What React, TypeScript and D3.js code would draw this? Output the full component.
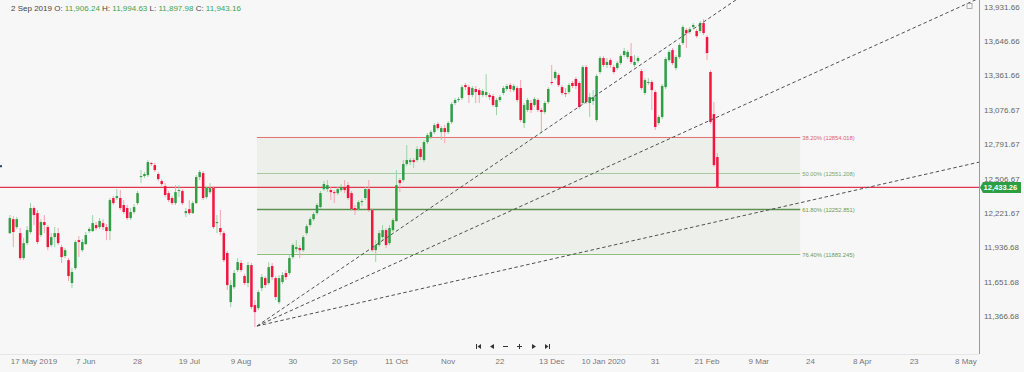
import React, { useEffect, useRef } from 'react';
import * as d3 from 'd3';

// trading-day index of the first candle (0 = 17 May 2019)
const firstIndex = -7;

const opens = [
  12054, 12170, 12104, 12054, 11847, 11971, 12063,
  12262, 12220, 12038, 12146, 12104, 11955, 12021, 12054, 11938, 11864,
  11830, 11640, 11764, 11996, 11913, 11963, 12071, 12071, 12121, 12104,
  12137, 12104, 12071, 12345, 12345, 12345, 12287, 12262, 12179, 12229,
  12303, 12519, 12527, 12535, 12635, 12618, 12544, 12486, 12444, 12386,
  12345, 12303, 12403, 12403, 12220, 12253, 12220, 12303, 12519, 12552,
  12353, 12394, 12428, 12137, 12096, 12054, 11889, 11482, 11606, 11748,
  11806, 11698, 11640, 11789, 11457, 11432, 11598, 11681, 11640, 11781,
  11681, 11482, 11648, 11723, 11723, 11855, 11922, 11930, 11913, 12054,
  12121, 12170, 12220, 12270, 12419, 12419, 12411, 12394, 12386, 12411,
  12436, 12452, 12386, 12262, 12253, 12311, 12345, 12419, 12245, 11913,
  11955, 12021, 12079, 11971, 12079, 12154, 12494, 12494, 12627, 12643,
  12660, 12660, 12751, 12660, 12809, 12851, 12892, 12959, 12892, 12925,
  12892, 12975, 13133, 13158, 13174, 13282, 13265, 13199, 13249, 13240,
  13199, 13199, 13199, 13191, 13100, 13158, 13216, 13249, 13282, 13240,
  13257, 13257, 12967, 13075, 13133, 13116, 13158, 13075, 13058, 13141,
  13307, 13340, 13365, 13265, 13216, 13224, 13299, 13332, 13299, 13133,
  13431, 13133, 13149, 12992, 13390, 13506, 13448, 13489, 13431, 13423,
  13464, 13531, 13514, 13522, 13448, 13481, 13398, 13216, 13299, 13307,
  13224, 12967, 13017, 13265, 13489, 13572, 13423, 13514, 13630, 13738,
  13722, 13763, 13730, 13730, 13796, 13680, 13390, 13041, 12685,
];

const highs = [
  12204, 12195, 12187, 12096, 12013, 12112, 12303,
  12278, 12245, 12170, 12204, 12121, 12054, 12104, 12096, 11955, 11930,
  11847, 11764, 11996, 12029, 12005, 12063, 12104, 12204, 12146, 12179,
  12170, 12129, 12345, 12361, 12419, 12411, 12328, 12287, 12262, 12295,
  12403, 12577, 12560, 12660, 12643, 12635, 12560, 12502, 12469, 12403,
  12361, 12452, 12452, 12419, 12262, 12328, 12320, 12535, 12577, 12569,
  12444, 12469, 12444, 12204, 12245, 12071, 11905, 11665, 11748, 11847,
  11830, 11714, 11814, 11806, 11499, 11582, 11714, 11698, 11814, 11806,
  11698, 11706, 11731, 11748, 11872, 11971, 11996, 11955, 12038, 12129,
  12187, 12229, 12303, 12403, 12486, 12494, 12436, 12411, 12436, 12461,
  12494, 12477, 12403, 12287, 12328, 12336, 12436, 12494, 12262, 11996,
  12079, 12121, 12096, 12121, 12179, 12577, 12511, 12660, 12784, 12677,
  12677, 12776, 12768, 12826, 12884, 12909, 12967, 12975, 12942, 12950,
  12983, 13141, 13174, 13182, 13282, 13299, 13282, 13274, 13274, 13257,
  13249, 13373, 13216, 13207, 13174, 13199, 13274, 13290, 13299, 13290,
  13274, 13323, 13133, 13174, 13158, 13182, 13174, 13091, 13149, 13265,
  13448, 13406, 13381, 13282, 13257, 13299, 13315, 13348, 13315, 13448,
  13448, 13216, 13240, 13373, 13522, 13522, 13506, 13506, 13448, 13481,
  13539, 13589, 13572, 13630, 13531, 13522, 13415, 13340, 13340, 13323,
  13240, 13033, 13290, 13514, 13572, 13589, 13531, 13630, 13780, 13755,
  13763, 13796, 13746, 13813, 13829, 13697, 13406, 13141, 12718,
];

const lows = [
  12046, 11938, 12088, 11830, 11830, 11955, 12046,
  12121, 11963, 12021, 12054, 11913, 11938, 11938, 11955, 11806, 11847,
  11656, 11598, 11748, 11855, 11897, 11955, 12054, 12063, 12079, 12088,
  12079, 11996, 11996, 12287, 12328, 12245, 12212, 12162, 12162, 12212,
  12287, 12469, 12511, 12519, 12610, 12560, 12486, 12444, 12353, 12311,
  12287, 12287, 12353, 12287, 12187, 12204, 12212, 12295, 12494, 12328,
  12336, 12378, 12088, 12054, 12038, 11814, 11582, 11441, 11590, 11731,
  11731, 11623, 11606, 11424, 11275, 11416, 11573, 11598, 11623, 11665,
  11499, 11465, 11631, 11665, 11706, 11839, 11897, 11847, 11897, 12038,
  12104, 12154, 12204, 12253, 12403, 12394, 12328, 12303, 12370, 12394,
  12386, 12328, 12237, 12204, 12237, 12278, 12328, 12229, 11897, 11814,
  11938, 11996, 11930, 11955, 12063, 12146, 12394, 12477, 12610, 12618,
  12594, 12643, 12660, 12643, 12793, 12834, 12876, 12909, 12826, 12801,
  12876, 12959, 13116, 13141, 13158, 13240, 13133, 13182, 13133, 13133,
  13182, 13182, 13158, 13100, 13033, 13141, 13199, 13232, 13224, 13224,
  13141, 12975, 12925, 13058, 13050, 13100, 13058, 12884, 13041, 13124,
  13282, 13323, 13265, 13199, 13182, 13207, 13257, 13249, 13083, 13116,
  13124, 13017, 13116, 12975, 13373, 13431, 13423, 13423, 13373, 13406,
  13448, 13514, 13498, 13456, 13431, 13464, 13240, 13199, 13282, 13075,
  12909, 12950, 13000, 13249, 13473, 13448, 13406, 13498, 13614, 13589,
  13705, 13746, 13672, 13713, 13697, 13489, 12959, 12602, 12419,
];

const closes = [
  12179, 12063, 12170, 11847, 11971, 12079, 12262,
  12204, 11980, 12146, 12121, 11938, 12021, 12054, 11971, 11855, 11913,
  11698, 11731, 11980, 11980, 11980, 12038, 12088, 12137, 12096, 12154,
  12104, 12071, 12328, 12303, 12361, 12262, 12229, 12179, 12229, 12270,
  12386, 12527, 12544, 12643, 12627, 12577, 12502, 12461, 12370, 12328,
  12303, 12394, 12411, 12303, 12237, 12220, 12303, 12519, 12560, 12345,
  12428, 12428, 12104, 12146, 12063, 11830, 11623, 11623, 11723, 11814,
  11748, 11640, 11789, 11441, 11399, 11565, 11689, 11623, 11772, 11689,
  11524, 11681, 11706, 11689, 11847, 11955, 11938, 11913, 12021, 12112,
  12170, 12212, 12287, 12386, 12461, 12452, 12394, 12386, 12419, 12436,
  12411, 12345, 12253, 12245, 12311, 12320, 12419, 12245, 11913, 11955,
  12054, 12079, 11955, 12096, 12162, 12452, 12469, 12627, 12660, 12660,
  12643, 12751, 12685, 12809, 12867, 12892, 12950, 12925, 12925, 12892,
  12967, 13124, 13158, 13166, 13265, 13265, 13199, 13257, 13224, 13199,
  13232, 13224, 13182, 13116, 13158, 13182, 13257, 13274, 13249, 13274,
  13158, 12992, 13116, 13158, 13075, 13166, 13075, 13058, 13133, 13249,
  13299, 13390, 13282, 13216, 13207, 13282, 13274, 13274, 13100, 13431,
  13141, 13182, 13182, 13357, 13506, 13448, 13473, 13448, 13390, 13464,
  13522, 13564, 13556, 13473, 13473, 13506, 13257, 13323, 13307, 13240,
  12934, 13017, 13274, 13498, 13556, 13464, 13514, 13614, 13763, 13713,
  13746, 13780, 13688, 13796, 13713, 13547, 12975, 12618, 12433.26,
];

const xTickLabels = [
  '17 May 2019', '7 Jun', '28', '19 Jul', '9 Aug', '30', '20 Sep', '11 Oct', 'Nov', '22',
  '13 Dec', '10 Jan 2020', '31', '21 Feb', '9 Mar', '24', '8 Apr', '23', '8 May',
];
const xTickStep = 15;

const yTickValues = [11366.68, 11651.68, 11936.68, 12221.67, 12506.67, 12791.67, 13076.67, 13361.66, 13646.66, 13931.66];

const fibLevels = [
  { ratio: '38.20%', value: 12854.018 },
  { ratio: '50.00%', value: 12551.208 },
  { ratio: '61.80%', value: 12252.851 },
  { ratio: '76.40%', value: 11883.245 },
];
const fibStartIndex = 64.6;
const fibEndIndex = 222;

// speed resistance fan from the August low through the February high
const trendLow = { index: 64.6, value: 11283.5 };
const trendHigh = { index: 195, value: 13824.8 };
const fanRatios = [1, 2 / 3, 1 / 3];

const lastPrice = 12433.26;
const headerDate = '2 Sep 2019';
const headerValues = [
  ['O', '11,906.24'],
  ['H', '11,994.63'],
  ['L', '11,897.98'],
  ['C', '11,943.16'],
];

const UP = '#2f9e44';
const DOWN = '#f2163e';
const UP_WICK = '#9ad3a5';
const DOWN_WICK = '#f7a1b2';
const FONT = '"Liberation Sans", Arial, sans-serif';

export default function App() {
  const svgRef = useRef<SVGSVGElement>(null);

  useEffect(() => {
    if (!svgRef.current) return;
    document.body.style.margin = '0';

    const width = 1024;
    const height = 372;
    const plotRight = 979;
    const plotBottom = 354;

    const svg = d3.select(svgRef.current);
    svg.selectAll('*').remove();

    const x = d3.scaleLinear().domain([-9.85, 273.8]).range([0, plotRight]);
    const y = d3.scaleLinear()
      .domain([yTickValues[0], yTickValues[yTickValues.length - 1]])
      .range([316, 6.7]);

    svg.append('rect').attr('width', width).attr('height', height).attr('fill', '#f7f7f7');

    svg.append('defs').append('clipPath').attr('id', 'plot-clip')
      .append('rect').attr('width', plotRight).attr('height', plotBottom);

    const plot = svg.append('g').attr('clip-path', 'url(#plot-clip)');

    // fibonacci zone
    const fibTop = fibLevels[0].value;
    const fibBottom = fibLevels[fibLevels.length - 1].value;
    plot.append('rect')
      .attr('x', x(fibStartIndex))
      .attr('y', y(fibTop))
      .attr('width', x(fibEndIndex) - x(fibStartIndex))
      .attr('height', y(fibBottom) - y(fibTop))
      .attr('fill', '#edf0ea');

    const fibStyle = [
      { stroke: '#e57373', width: 1, text: '#e0606f' },
      { stroke: '#a9c9a0', width: 1, text: '#78a86c' },
      { stroke: '#5e8f52', width: 1.6, text: '#6a9a5e' },
      { stroke: '#8fbd80', width: 1, text: '#6a9a5e' },
    ];
    fibLevels.forEach((lv, i) => {
      const yy = Math.round(y(lv.value)) + 0.5;
      plot.append('line')
        .attr('x1', x(fibStartIndex)).attr('x2', x(fibEndIndex))
        .attr('y1', yy).attr('y2', yy)
        .attr('stroke', fibStyle[i].stroke)
        .attr('stroke-width', fibStyle[i].width);
      plot.append('text')
        .attr('x', x(fibEndIndex) + 2)
        .attr('y', yy + 2)
        .attr('font-family', FONT)
        .attr('font-size', 5.8)
        .attr('fill', fibStyle[i].text)
        .text(`${lv.ratio} (${lv.value.toFixed(3)})`);
    });

    // current price line
    const py = y(lastPrice);
    plot.append('line').attr('x1', 0).attr('x2', plotRight).attr('y1', py).attr('y2', py)
      .attr('stroke', '#e0354b').attr('stroke-width', 1.4);

    // candles
    const candles = opens.map((o, i) => ({
      i: firstIndex + i, o, h: highs[i], l: lows[i], c: closes[i],
    }));
    const bodyW = 2.5;
    const g = plot.append('g');
    g.selectAll('line.wick')
      .data(candles)
      .enter().append('line')
      .attr('class', 'wick')
      .attr('x1', d => x(d.i)).attr('x2', d => x(d.i))
      .attr('y1', d => y(d.h)).attr('y2', d => y(d.l))
      .attr('stroke', d => (d.c >= d.o ? UP_WICK : DOWN_WICK))
      .attr('stroke-width', 1);
    g.selectAll('rect.body')
      .data(candles)
      .enter().append('rect')
      .attr('class', 'body')
      .attr('x', d => x(d.i) - bodyW / 2)
      .attr('y', d => y(Math.max(d.o, d.c)))
      .attr('width', bodyW)
      .attr('height', d => Math.max(1, Math.abs(y(d.o) - y(d.c))))
      .attr('fill', d => (d.c >= d.o ? UP : DOWN));

    // fan lines
    const span = trendHigh.value - trendLow.value;
    const endIndex = x.domain()[1];
    fanRatios.forEach(r => {
      const slope = (r * span) / (trendHigh.index - trendLow.index);
      const endValue = trendLow.value + slope * (endIndex - trendLow.index);
      plot.append('line')
        .attr('x1', x(trendLow.index)).attr('y1', y(trendLow.value))
        .attr('x2', x(endIndex)).attr('y2', y(endValue))
        .attr('stroke', '#505050')
        .attr('stroke-width', 1)
        .attr('stroke-dasharray', '3.5,2.5');
    });

    // left edge marker
    svg.append('rect').attr('x', 0).attr('y', y(12617)).attr('width', 2).attr('height', 2).attr('fill', '#2b3f6b');

    // axes frame
    svg.append('line').attr('x1', plotRight + 0.5).attr('x2', plotRight + 0.5).attr('y1', 0).attr('y2', plotBottom)
      .attr('stroke', '#9a9a9a');
    svg.append('line').attr('x1', 0).attr('x2', plotRight).attr('y1', plotBottom + 0.5).attr('y2', plotBottom + 0.5)
      .attr('stroke', '#e6e6e6');

    // y axis labels
    svg.append('g').selectAll('text')
      .data(yTickValues)
      .enter().append('text')
      .attr('x', plotRight + 5)
      .attr('y', d => y(d) + 3)
      .attr('font-family', FONT)
      .attr('font-size', 8)
      .attr('fill', '#666')
      .text(d => d3.format(',.2f')(d));

    // last price tag
    const tagY = y(lastPrice);
    svg.append('path')
      .attr('d', `M${plotRight + 1},${tagY} L${plotRight + 4},${tagY - 5.5} L${width - 3},${tagY - 5.5} L${width - 3},${tagY + 5.5} L${plotRight + 4},${tagY + 5.5} Z`)
      .attr('fill', '#2e9e44');
    svg.append('text')
      .attr('x', plotRight + 4.5)
      .attr('y', tagY + 2.8)
      .attr('font-family', FONT)
      .attr('font-size', 7.6)
      .attr('font-weight', 'bold')
      .attr('fill', '#fff')
      .text(d3.format(',.2f')(lastPrice));

    // x axis labels
    svg.append('g').selectAll('text')
      .data(xTickLabels)
      .enter().append('text')
      .attr('x', (_, i) => x(i * xTickStep))
      .attr('y', 363.5)
      .attr('text-anchor', 'middle')
      .attr('font-family', FONT)
      .attr('font-size', 8)
      .attr('fill', '#777')
      .text(d => d);

    // header
    const header = svg.append('text')
      .attr('x', 11).attr('y', 10.5)
      .attr('font-family', FONT)
      .attr('font-size', 8)
      .attr('fill', '#444');
    header.append('tspan').text(`${headerDate} `);
    headerValues.forEach(([k, v]) => {
      header.append('tspan').attr('fill', '#444').text(`${k}: `);
      header.append('tspan').attr('fill', '#3fa34d').text(`${v} `);
    });

    // navigation controls
    const nav = svg.append('g').attr('fill', '#333').attr('stroke', '#333');
    const ny = 346.5;
    nav.append('rect').attr('x', 476).attr('y', ny - 2.5).attr('width', 1).attr('height', 5).attr('stroke', 'none');
    nav.append('path').attr('d', `M477.5,${ny} L481,${ny - 2.5} L481,${ny + 2.5} Z`).attr('stroke', 'none');
    nav.append('path').attr('d', `M490,${ny} L494,${ny - 2.5} L494,${ny + 2.5} Z`).attr('stroke', 'none');
    nav.append('line').attr('x1', 503).attr('x2', 508).attr('y1', ny).attr('y2', ny).attr('stroke-width', 1);
    nav.append('line').attr('x1', 517).attr('x2', 522).attr('y1', ny).attr('y2', ny).attr('stroke-width', 1);
    nav.append('line').attr('x1', 519.5).attr('x2', 519.5).attr('y1', ny - 2.5).attr('y2', ny + 2.5).attr('stroke-width', 1);
    nav.append('path').attr('d', `M532,${ny - 2.5} L536,${ny} L532,${ny + 2.5} Z`).attr('stroke', 'none');
    nav.append('path').attr('d', `M545,${ny - 2.5} L548.5,${ny} L545,${ny + 2.5} Z`).attr('stroke', 'none');
    nav.append('rect').attr('x', 549).attr('y', ny - 2.5).attr('width', 1).attr('height', 5).attr('stroke', 'none');

    // corner icon
    svg.append('rect').attr('x', 967).attr('y', 3.5).attr('width', 5).attr('height', 5)
      .attr('fill', 'none').attr('stroke', '#999').attr('stroke-width', 0.8);
  }, []);

  return (
    <div style={{ position: 'fixed', left: 0, top: 0, width: 1024, height: 372 }}>
      <svg ref={svgRef} width={1024} height={372} style={{ display: 'block' }} />
    </div>
  );
}
